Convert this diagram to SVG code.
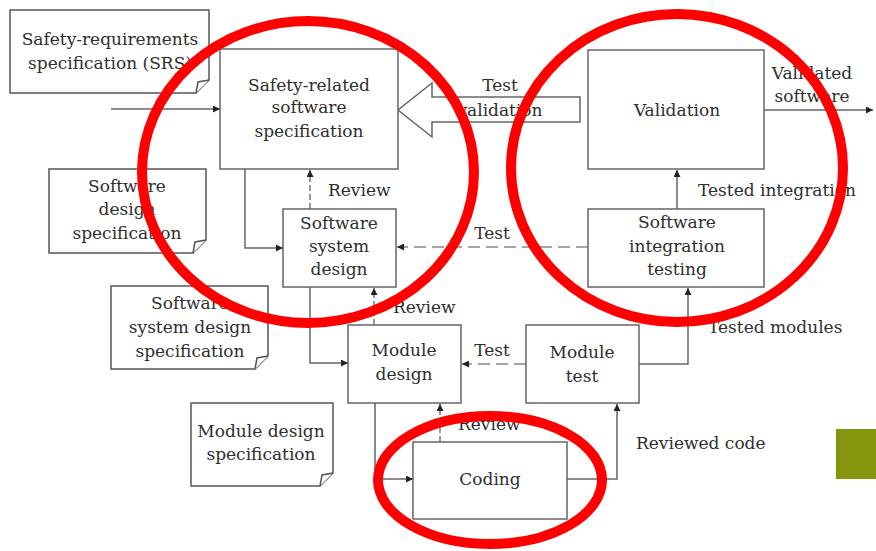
<svg xmlns="http://www.w3.org/2000/svg" width="876" height="551" viewBox="0 0 876 551">
<style>
.box{fill:#fff;stroke:#666;stroke-width:1.5}
.doc{fill:#fff;stroke:#555;stroke-width:1.5}
.t{font-family:"DejaVu Serif","Liberation Serif",serif;font-size:17px;fill:#2e2e2e;text-anchor:middle}
.l{font-family:"DejaVu Serif","Liberation Serif",serif;font-size:17px;fill:#2e2e2e}
.c{fill:none;stroke:#666;stroke-width:1.5}
.d{fill:none;stroke:#888;stroke-width:1.5;stroke-dasharray:12 6}
.r{fill:none;stroke:#555;stroke-width:1.2;stroke-dasharray:6 3}
.red{fill:none;stroke:#f00;stroke-width:10}
</style>
<defs>
<marker id="ah" viewBox="0 0 10 10" refX="10" refY="5" markerWidth="9" markerHeight="7" markerUnits="userSpaceOnUse" orient="auto"><path d="M0,0 L10,5 L0,10 z" fill="#222"/></marker>
</defs>
<g id="doc-srs">
<path class="doc" d="M10,10 H209 V80 L196,93 H10 Z"/><path class="doc" d="M196,93 L198,82 L209,80"/>
<text class="t" x="110" y="45">Safety-requirements</text><text class="t" x="110" y="69">specification (SRS)</text>
</g>
<g id="doc-sds">
<path class="doc" d="M49,169 H206 V240 L193,253 H49 Z"/><path class="doc" d="M193,253 L195,242 L206,240"/>
<text class="t" x="127" y="192">Software</text><text class="t" x="127" y="215">design</text><text class="t" x="127" y="239">specification</text>
</g>
<g id="doc-ssds">
<path class="doc" d="M111,286 H268 V356 L255,369 H111 Z"/><path class="doc" d="M255,369 L257,358 L268,356"/>
<text class="t" x="190" y="309">Software</text><text class="t" x="190" y="333">system design</text><text class="t" x="190" y="357">specification</text>
</g>
<g id="doc-mds">
<path class="doc" d="M191,403 H333 V473 L320,486 H191 Z"/><path class="doc" d="M320,486 L322,475 L333,473"/>
<text class="t" x="261" y="437">Module design</text><text class="t" x="261" y="460">specification</text>
</g>
<g id="connectors">
<line class="c" x1="111" y1="109" x2="220" y2="109" marker-end="url(#ah)"/>
<path class="c" d="M580,97 H432 V83 L398,110 L432,137 V122 H580 Z" fill="#fff"/>
<line class="c" x1="764" y1="110" x2="873" y2="110" marker-end="url(#ah)"/>
<line class="c" x1="677" y1="209" x2="677" y2="170" marker-end="url(#ah)"/>
<line class="d" x1="588" y1="247" x2="397" y2="247" marker-end="url(#ah)"/>
<line class="r" x1="310" y1="209" x2="310" y2="170" marker-end="url(#ah)"/>
<path class="c" d="M245,169 V248 H283" marker-end="url(#ah)"/>
<line class="r" x1="374" y1="325" x2="374" y2="288" marker-end="url(#ah)"/>
<path class="c" d="M310,287 V363 H348" marker-end="url(#ah)"/>
<line class="d" x1="526" y1="364" x2="462" y2="364" marker-end="url(#ah)"/>
<path class="c" d="M639,364 H688 V288" marker-end="url(#ah)"/>
<path class="c" d="M375,403 V479 H413" marker-end="url(#ah)"/>
<line class="r" x1="440" y1="442" x2="440" y2="404" marker-end="url(#ah)"/>
<path class="c" d="M567,479 H617 V404" marker-end="url(#ah)"/>
<text class="t" x="500" y="91">Test</text><text class="t" x="500" y="116">validation</text>
<text class="t" x="812" y="79">Validated</text><text class="t" x="812" y="102">software</text>
<text class="l" x="698" y="196">Tested integration</text>
<text class="t" x="492" y="239">Test</text>
<text class="l" x="328" y="196">Review</text>
<text class="l" x="393" y="313">Review</text>
<text class="t" x="492" y="356">Test</text>
<text class="l" x="708" y="333">Tested modules</text>
<text class="l" x="458" y="430">Review</text>
<text class="l" x="636" y="449">Reviewed code</text>
</g>
<g id="n-srs-spec"><rect class="box" x="220" y="49" width="178" height="120"/>
<text class="t" x="309" y="91">Safety-related</text><text class="t" x="309" y="113">software</text><text class="t" x="309" y="137">specification</text></g>
<g id="n-validation"><rect class="box" x="588" y="50" width="176" height="119"/><text class="t" x="677" y="116">Validation</text></g>
<g id="n-sysdesign"><rect class="box" x="283" y="209" width="113" height="78"/>
<text class="t" x="339" y="229">Software</text><text class="t" x="339" y="252">system</text><text class="t" x="339" y="275">design</text></g>
<g id="n-inttest"><rect class="box" x="588" y="209" width="176" height="78"/>
<text class="t" x="677" y="228">Software</text><text class="t" x="677" y="252">integration</text><text class="t" x="677" y="275">testing</text></g>
<g id="n-moddesign"><rect class="box" x="348" y="325" width="113" height="78"/>
<text class="t" x="404" y="356">Module</text><text class="t" x="404" y="380">design</text></g>
<g id="n-modtest"><rect class="box" x="526" y="325" width="113" height="78"/>
<text class="t" x="582" y="358">Module</text><text class="t" x="582" y="382">test</text></g>
<g id="n-coding"><rect class="box" x="413" y="442" width="154" height="77"/><text class="t" x="490" y="485">Coding</text></g>
<rect x="836" y="429" width="40" height="50" fill="#86960e"/>
<ellipse class="red" cx="308" cy="172" rx="166" ry="151"/>
<ellipse class="red" cx="677" cy="168" rx="166" ry="154"/>
<ellipse class="red" cx="490" cy="480" rx="112" ry="64" stroke-width="9"/>
</svg>
